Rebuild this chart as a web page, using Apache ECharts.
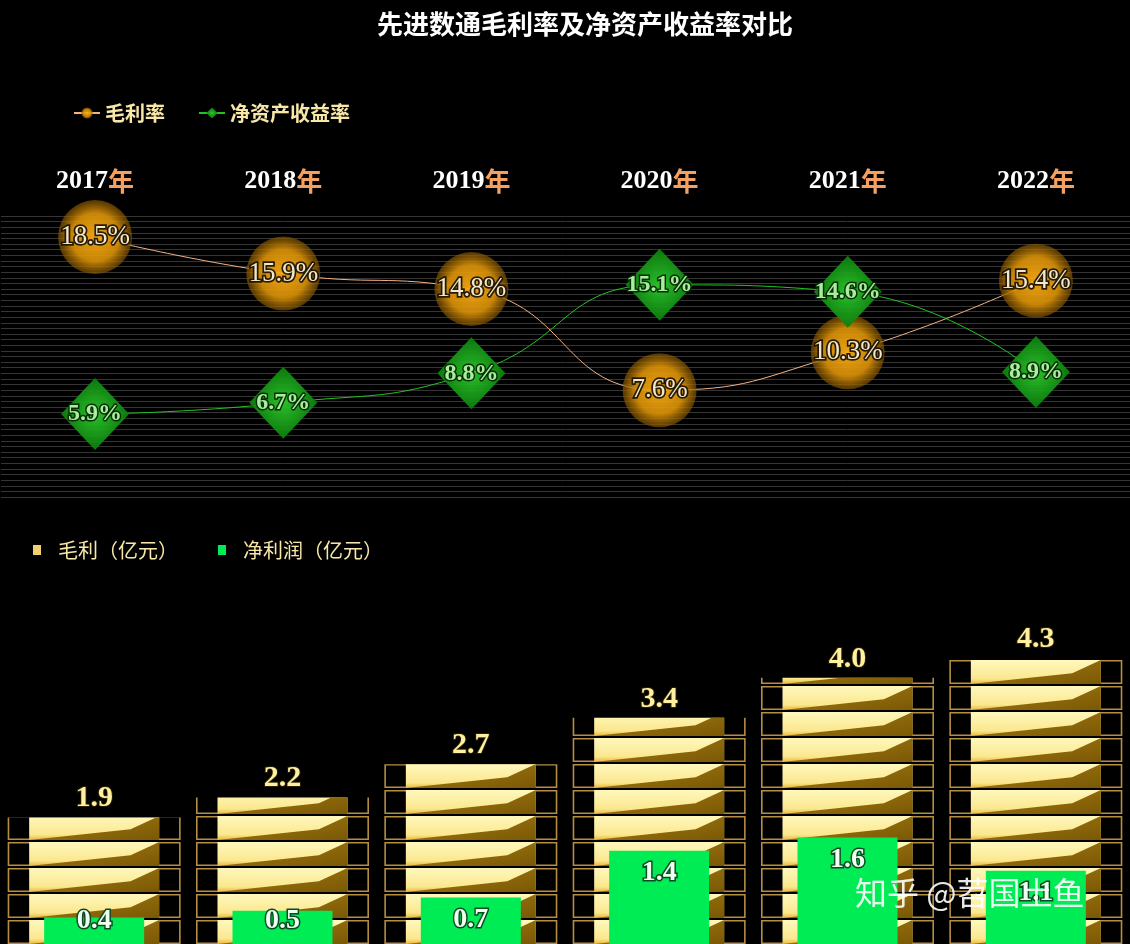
<!DOCTYPE html>
<html><head><meta charset="utf-8">
<script src="https://cdn.jsdelivr.net/npm/echarts@6/dist/echarts.min.js"></script>
<style>html,body{margin:0;padding:0;background:#000}#c{width:1130px;height:944px}</style>
</head><body><div id="c"></div><script>
const years = ['2017', '2018', '2019', '2020', '2021', '2022'];
const grossMargin = [18.5, 15.9, 14.8, 7.6, 10.3, 15.4];
const roe = [5.9, 6.7, 8.8, 15.1, 14.6, 8.9];
const grossProfit = [1.9, 2.2, 2.7, 3.4, 4.0, 4.3];
const netProfit = [0.4, 0.5, 0.7, 1.4, 1.6, 1.1];

const chart = echarts.init(document.getElementById('c'));
const barGridTop = 598, barMax = 5.2;
const pxPerUnit = (944 - barGridTop) / barMax;
const blockH = 24, blockGap = 2, blockN = 14;
const bounding = (blockN * (blockH + blockGap) - blockGap) / pxPerUnit;

const serif = 'Liberation Serif';
const cjk = 'Noto Sans CJK SC';

const goldLight = {type: 'linear', x: 0, y: 0, x2: 0, y2: 1, colorStops: [
  {offset: 0, color: '#fff8bc'}, {offset: 0.78, color: '#fbe78f'}, {offset: 1, color: '#eab838'}]};
const goldDark = {type: 'linear', x: 0, y: 0, x2: 1, y2: 1, colorStops: [
  {offset: 0, color: '#a67c10'}, {offset: 1, color: '#7a5806'}]};
const framePath = 'path://M0,0 L173,0 L173,24 L0,24 Z M1.6,1.6 L1.6,22.4 L171.4,22.4 L171.4,1.6 Z';

chart.setOption({
  backgroundColor: '#000',
  title: {
    text: '先进数通毛利率及净资产收益率对比',
    left: 580, top: 6, textAlign: 'center',
    textStyle: {color: '#fff', fontSize: 26, fontWeight: 'bold', fontFamily: cjk}
  },
  legend: [{
    data: ['毛利率', '净资产收益率'],
    left: 68, top: 98, itemGap: 33, itemWidth: 26, itemHeight: 14,
    textStyle: {color: '#f7e8a8', fontSize: 20, fontWeight: 'bold', fontFamily: cjk}
  }, {
    data: [
      {name: '毛利（亿元）', icon: 'rect', itemStyle: {color: '#f0d070'}},
      {name: '净利润（亿元）', icon: 'rect', itemStyle: {color: '#00ec55'}}
    ],
    left: 28, top: 535, itemGap: 40, itemWidth: 8, itemHeight: 10,
    textStyle: {color: '#f7e8a8', fontSize: 20, fontFamily: cjk, padding: [0, 0, 0, 12]}
  }],
  grid: [
    {left: 1, right: -3, top: 216, height: 281},
    {left: 0, right: -3, top: barGridTop, bottom: 0}
  ],
  xAxis: [{
    type: 'category', gridIndex: 0, position: 'top', data: years,
    axisLine: {show: false}, axisTick: {show: false},
    axisLabel: {
      margin: 22,
      formatter: v => '{y|' + v + '}{n|年}',
      rich: {
        y: {color: '#fff', fontSize: 26, fontWeight: 'bold', fontFamily: serif},
        n: {color: '#f3a060', fontSize: 26, fontWeight: 'bold', fontFamily: cjk}
      }
    }
  }, {
    type: 'category', gridIndex: 1, data: years, show: false
  }],
  yAxis: [{
    type: 'value', gridIndex: 0, min: 0, max: 20, interval: 0.4,
    axisLabel: {show: false}, axisLine: {show: false}, axisTick: {show: false},
    splitLine: {lineStyle: {color: '#353535', width: 1}}
  }, {
    type: 'value', gridIndex: 1, min: 0, max: barMax, show: false,
    splitLine: {show: false}
  }],
  series: [{
    name: '毛利率', type: 'line', xAxisIndex: 0, yAxisIndex: 0,
    data: grossMargin, smooth: true, clip: false,
    symbol: 'circle', symbolSize: 74,
    lineStyle: {color: '#f4b183', width: 1},
    itemStyle: {
      opacity: 0.92,
      color: {type: 'radial', x: 0.5, y: 0.5, r: 0.5, colorStops: [
        {offset: 0, color: '#ffae14'}, {offset: 0.65, color: '#d89008'}, {offset: 1, color: 'rgba(130,84,0,0.7)'}]}
    },
    label: {
      show: true, position: 'inside', formatter: '{c}%',
      color: '#fffbe0', fontSize: 27, fontFamily: serif,
      textBorderColor: '#1a1000', textBorderWidth: 3.5
    },
    z: 3
  }, {
    name: '净资产收益率', type: 'line', xAxisIndex: 0, yAxisIndex: 0,
    data: roe, smooth: true, clip: false,
    symbol: 'diamond', symbolSize: [68, 72],
    lineStyle: {color: '#22c422', width: 1},
    itemStyle: {
      opacity: 0.95,
      color: {type: 'radial', x: 0.5, y: 0.5, r: 0.5, colorStops: [
        {offset: 0, color: '#2cc82c'}, {offset: 1, color: '#0c7c0c'}]}
    },
    label: {
      show: true, position: 'inside', formatter: '{c}%',
      color: '#b4f7a8', fontSize: 24, fontWeight: 'bold', fontFamily: serif,
      textBorderColor: '#032803', textBorderWidth: 3
    },
    z: 4
  }, {
    name: 'frame', type: 'pictorialBar', xAxisIndex: 1, yAxisIndex: 1,
    data: grossProfit, barWidth: 173, barGap: '-100%',
    symbol: framePath, symbolSize: [173, blockH], symbolRepeat: true, symbolMargin: 1,
    symbolClip: true, symbolBoundingData: bounding,
    itemStyle: {color: '#b58e42'},
    silent: true, z: 1
  }, {
    name: '毛利（亿元）', type: 'pictorialBar', xAxisIndex: 1, yAxisIndex: 1,
    data: grossProfit, barWidth: 173, barGap: '-100%',
    symbol: 'rect', symbolSize: [130, blockH], symbolRepeat: true, symbolMargin: 1,
    symbolClip: true, symbolBoundingData: bounding,
    itemStyle: {color: goldLight},
    z: 2
  }, {
    name: 'wedge', type: 'pictorialBar', xAxisIndex: 1, yAxisIndex: 1,
    data: grossProfit, barWidth: 173, barGap: '-100%',
    symbol: 'path://M100,0 L78,55 L0,100 L100,100 Z', symbolSize: [130, blockH],
    symbolRepeat: true, symbolMargin: 1,
    symbolClip: true, symbolBoundingData: bounding,
    itemStyle: {color: goldDark},
    silent: true, z: 3
  }, {
    name: '净利润（亿元）', type: 'bar', xAxisIndex: 1, yAxisIndex: 1,
    data: netProfit, barWidth: 100, barGap: '-100%',
    itemStyle: {color: '#00ec55'},
    label: {
      show: true, position: 'insideTop', distance: 8,
      formatter: p => p.value.toFixed(1),
      color: '#eefff2', fontSize: 28, fontWeight: 'bold', fontFamily: serif,
      textBorderColor: '#0b4a22', textBorderWidth: 3
    },
    labelLayout: p => {
      const cx = p.labelRect.x + p.labelRect.width / 2;
      const cy = p.labelRect.y + p.labelRect.height / 2;
      return {x: cx, y: Math.min(cy, 921), align: 'center', verticalAlign: 'middle'};
    },
    z: 5
  }, {
    name: 'gpLabel', type: 'bar', xAxisIndex: 1, yAxisIndex: 1,
    data: grossProfit, barWidth: 100, barGap: '-100%',
    itemStyle: {color: 'rgba(0,0,0,0)'},
    label: {
      show: true, position: 'top', distance: 4,
      formatter: p => p.value.toFixed(1),
      color: '#fff0a0', fontSize: 30, fontWeight: 'bold', fontFamily: serif,
      textBorderColor: '#2a2000', textBorderWidth: 2
    },
    silent: true, z: 6
  }],
  graphic: [{
    type: 'text', left: 855, top: 877, z: 100,
    style: {
      text: '知乎 @苕国土鱼', fill: 'rgba(255,255,255,0.9)',
      font: '32px "Noto Sans CJK SC"',
      shadowColor: 'rgba(0,0,0,0.6)', shadowBlur: 4, shadowOffsetX: 1, shadowOffsetY: 1
    }
  }]
});
</script></body></html>
